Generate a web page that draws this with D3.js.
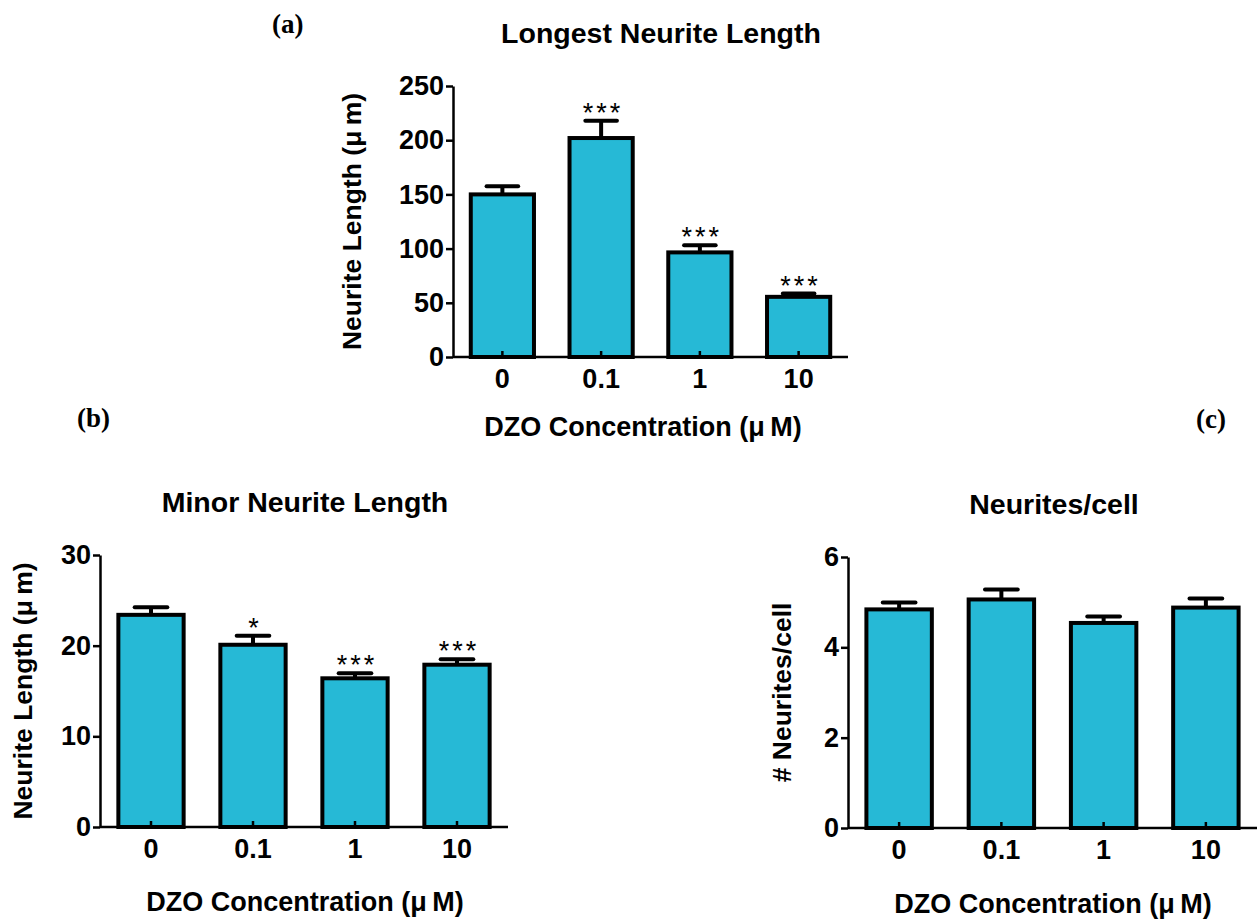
<!DOCTYPE html>
<html>
<head>
<meta charset="utf-8">
<script src="https://cdn.jsdelivr.net/npm/d3@7"></script>
<style>
  body { margin: 0; background: #fff; }
  svg { display: block; }
  text { font-family: "Liberation Sans", Arial, sans-serif; }
</style>
</head>
<body>
<svg id="fig" width="1257" height="921"></svg>
<script>
// values
var doses = ["0", "0.1", "1", "10"];

var longestMean = [150, 202, 96.5, 55.5];
var longestSem = [7.5, 16, 6.5, 3];
var longestSig = ["", "***", "***", "***"];
var longestTicks = [0, 50, 100, 150, 200, 250];

var minorMean = [23.4, 20.1, 16.4, 17.9];
var minorSem = [0.85, 1.0, 0.55, 0.6];
var minorSig = ["", "*", "***", "***"];
var minorTicks = [0, 10, 20, 30];

var countMean = [4.84, 5.06, 4.54, 4.88];
var countSem = [0.15, 0.22, 0.14, 0.2];
var countSig = ["", "", "", ""];
var countTicks = [0, 2, 4, 6];

var barColor = "#26b9d6";
var svg = d3.select("#fig");

function drawPanel(p) {
    var g = svg.append("g");

    var x = d3.scaleBand()
        .domain(doses)
        .range([p.left, p.right])
        .paddingInner(0.36)
        .paddingOuter(0.18);

    var y = d3.scaleLinear()
        .domain([0, p.max])
        .range([p.bottom, p.top]);

    var rows = doses.map(function(d, i) {
        return {dose: d, mean: p.mean[i], sem: p.sem[i], sig: p.sig[i]};
    });

    // error bars (upper only)
    var err = g.append("g")
        .attr("stroke", "#000")
        .attr("stroke-width", 4);
    err.selectAll("line.v")
        .data(rows)
        .enter().append("line")
        .attr("class", "v")
        .attr("x1", function(d) { return x(d.dose) + x.bandwidth() / 2; })
        .attr("x2", function(d) { return x(d.dose) + x.bandwidth() / 2; })
        .attr("y1", function(d) { return y(d.mean); })
        .attr("y2", function(d) { return y(d.mean + d.sem); });
    err.selectAll("line.cap")
        .data(rows)
        .enter().append("line")
        .attr("class", "cap")
        .attr("stroke-linecap", "round")
        .attr("x1", function(d) { return x(d.dose) + x.bandwidth() * 0.25; })
        .attr("x2", function(d) { return x(d.dose) + x.bandwidth() * 0.75; })
        .attr("y1", function(d) { return y(d.mean + d.sem); })
        .attr("y2", function(d) { return y(d.mean + d.sem); });

    g.selectAll("rect")
        .data(rows)
        .enter().append("rect")
        .attr("x", function(d) { return x(d.dose); })
        .attr("y", function(d) { return y(d.mean); })
        .attr("width", x.bandwidth())
        .attr("height", function(d) { return y(0) - y(d.mean); })
        .attr("fill", barColor)
        .attr("stroke", "#000")
        .attr("stroke-width", 4);

    g.selectAll("text.sig")
        .data(rows)
        .enter().append("text")
        .attr("class", "sig")
        .attr("x", function(d) { return x(d.dose) + x.bandwidth() / 2 + 2; })
        .attr("y", function(d) { return y(d.mean + d.sem) + 1; })
        .attr("text-anchor", "middle")
        .style("font-size", "27px")
        .style("letter-spacing", "3px")
        .text(function(d) { return d.sig; });

    // axes
    var yAxis = g.append("g")
        .attr("transform", "translate(" + p.left + ",0)")
        .call(d3.axisLeft(y).tickValues(p.ticks).tickFormat(d3.format("d"))
            .tickSize(7).tickSizeOuter(0).tickPadding(2));

    var xAxis = g.append("g")
        .attr("transform", "translate(0," + p.bottom + ")")
        .call(d3.axisBottom(x).tickSize(-6).tickSizeOuter(0).tickPadding(12));
    xAxis.select(".domain").attr("d", "M" + p.left + ",0H" + p.right);

    [yAxis, xAxis].forEach(function(a) {
        a.select(".domain").attr("stroke", "#000").attr("stroke-width", 2.5);
        a.selectAll(".tick line").attr("stroke", "#000").attr("stroke-width", 2.5);
        a.selectAll(".tick text")
            .attr("fill", "#000")
            .style("font-size", "27px")
            .style("font-weight", "bold")
            .style("font-family", "'Liberation Sans', Arial, sans-serif");
    });

    // titles
    g.append("text")
        .attr("x", p.titleX)
        .attr("y", p.top - 43)
        .attr("text-anchor", "middle")
        .style("font-size", "28.5px")
        .style("font-weight", "bold")
        .text(p.title);

    g.append("text")
        .attr("x", p.xLabelX)
        .attr("y", p.xLabelY)
        .attr("text-anchor", "middle")
        .style("font-size", "27px")
        .style("font-weight", "bold")
        .text("DZO Concentration (\u03bc\u2009M)");

    g.append("text")
        .attr("transform", "translate(" + p.yLabelX + "," + (p.top + p.bottom) / 2 + ") rotate(-90)")
        .attr("text-anchor", "middle")
        .attr("dy", "0.35em")
        .style("font-size", "26.5px")
        .style("font-weight", "bold")
        .text(p.yLabel);
}

drawPanel({
    left: 453, right: 848, top: 86, bottom: 357, max: 250,
    mean: longestMean, sem: longestSem, sig: longestSig, ticks: longestTicks,
    title: "Longest Neurite Length", titleX: 661, xLabelX: 643, xLabelY: 436,
    yLabel: "Neurite Length (\u03bc\u2009m)", yLabelX: 352
});

drawPanel({
    left: 100, right: 508, top: 555, bottom: 827, max: 30,
    mean: minorMean, sem: minorSem, sig: minorSig, ticks: minorTicks,
    title: "Minor Neurite Length", titleX: 305, xLabelX: 305, xLabelY: 911,
    yLabel: "Neurite Length (\u03bc\u2009m)", yLabelX: 23
});

drawPanel({
    left: 848, right: 1257, top: 557, bottom: 828, max: 6,
    mean: countMean, sem: countSem, sig: countSig, ticks: countTicks,
    title: "Neurites/cell", titleX: 1054, xLabelX: 1053, xLabelY: 913,
    yLabel: "# Neurites/cell", yLabelX: 782
});

// panel letters
var letters = [["(a)", 272, 33], ["(b)", 77, 427], ["(c)", 1196, 428]];
svg.selectAll("text.letter")
    .data(letters)
    .enter().append("text")
    .attr("class", "letter")
    .attr("x", function(d) { return d[1]; })
    .attr("y", function(d) { return d[2]; })
    .style("font-family", "'Liberation Serif', 'Times New Roman', serif")
    .style("font-size", "27px")
    .style("font-weight", "bold")
    .text(function(d) { return d[0]; });
</script>
</body>
</html>
